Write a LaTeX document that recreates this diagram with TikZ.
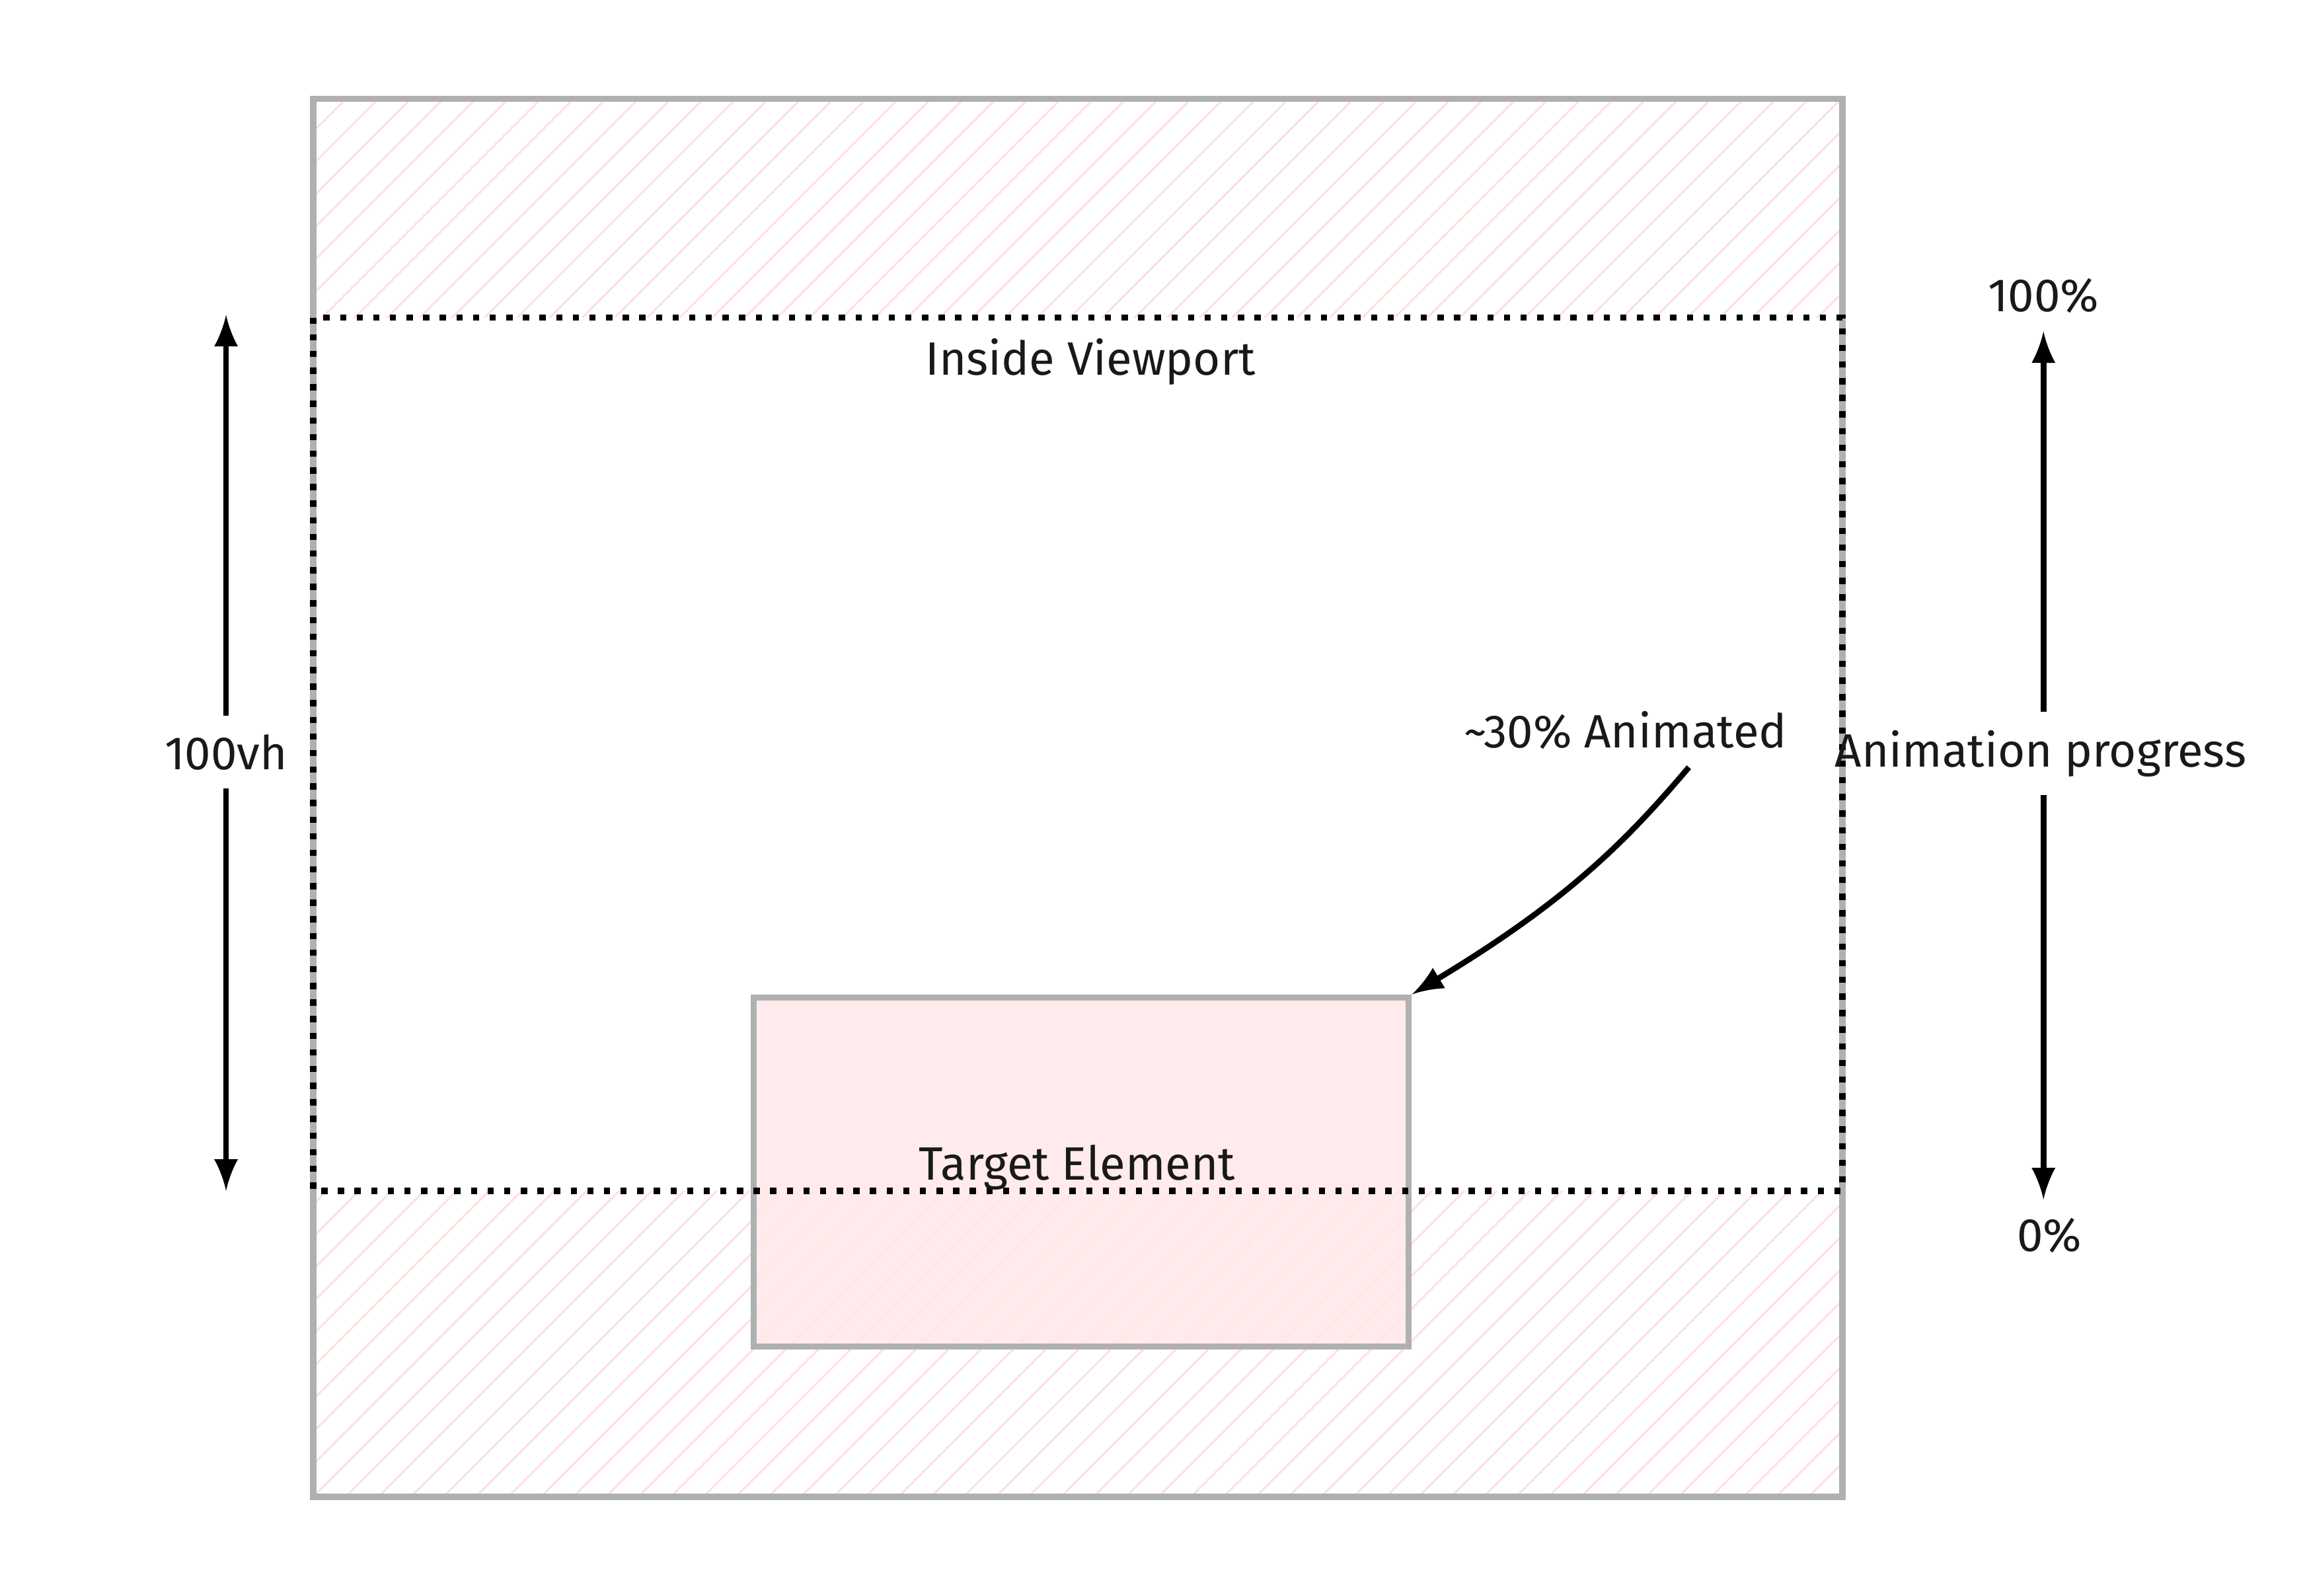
\documentclass[tikz,border=0pt]{standalone}
\usepackage{fontspec}
\setmainfont{Fira Sans}
\definecolor{hatch}{HTML}{FFE0E0}
\definecolor{box}{HTML}{FFE8E8}
\definecolor{edge}{HTML}{B0B0B0}
\begin{document}
\begin{tikzpicture}[x=0.01cm,y=-0.01cm,
  lbl/.style={font=\fontsize{9}{11}\selectfont, text=black!90},
  arr/.style={line width=1.1pt,->,>=latex}]
\useasboundingbox (0,0) rectangle (1560,1080);
\begin{scope}
\clip (212,67) rectangle (1247,215) (212,806) rectangle (1247,1013);
\foreach \i in {-1100,-1078,...,1100} \draw[hatch,line width=0.4pt] (212+\i,1013) -- (1247+\i,-22);
\end{scope}
\node[draw=edge,line width=1.2pt,fill=box,fill opacity=0.85,draw opacity=1,
  minimum width=4.43cm,minimum height=2.36cm,inner sep=0,anchor=north west] (t) at (508,673) {};
\draw[edge,line width=1.2pt] (212,67) rectangle (1247,1013);
\draw[dotted,line width=1.2pt] (212,215) rectangle (1247,806);
\node[lbl] (iv) at (738,245) {Inside Viewport};
\node[lbl] (te) at (729,790) {Target Element};
\node[lbl] (vh) at (153,509) {100vh};
\coordinate (vt) at (153,213); \coordinate (vb) at (153,806);
\draw[arr] (vh) -- (vt); \draw[arr] (vh) -- (vb);
\node[lbl] (p100) at (1383,200) {100\%};
\node[lbl] (p0) at (1387,836) {0\%};
\node[lbl] (ap) at (1381,510) {Animation progress};
\draw[arr] (ap.north -| p100) -- (p100); \draw[arr] (ap.south -| p100) -- (p100 |- p0.north);
\node[lbl] (an) at (1100,494) {\textasciitilde30\% Animated};
\draw[arr] (an.south -| 1143,0) .. controls (1100,570) and (1060,610) .. (t.north east);
\end{tikzpicture}
\end{document}
